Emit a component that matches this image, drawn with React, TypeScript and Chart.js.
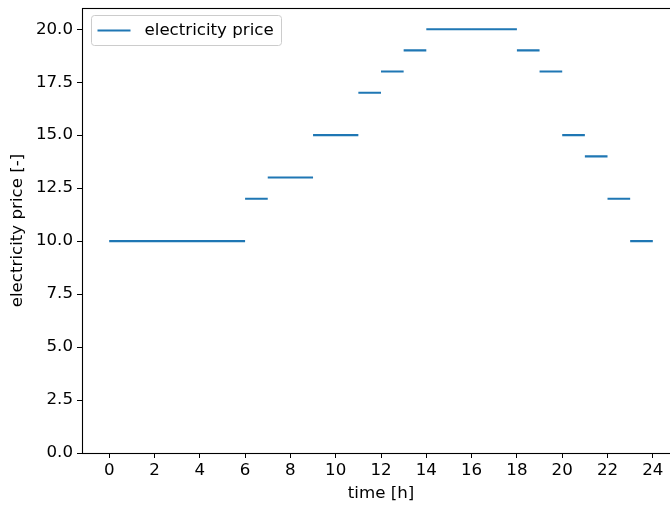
import React, { useEffect, useRef } from "react";
import { Chart, registerables } from "chart.js";

Chart.register(...registerables);

const hours: number[] = [0, 1, 2, 3, 4, 5, 6, 7, 8, 9, 10, 11, 12, 13, 14, 15, 16, 17, 18, 19, 20, 21, 22, 23];
const prices: number[] = [10, 10, 10, 10, 10, 10, 12, 13, 13, 15, 15, 17, 18, 19, 20, 20, 20, 20, 19, 18, 15, 14, 12, 10];
const xTicks: number[] = [0, 2, 4, 6, 8, 10, 12, 14, 16, 18, 20, 22, 24];
const yTicks: number[] = [0, 2.5, 5, 7.5, 10, 12.5, 15, 17.5, 20];
const seriesLabel = "electricity price";
const xTitle = "time [h]";
const yTitle = "electricity price [-]";

const BLUE = "#1f77b4";
const FONT = "'DejaVu Sans', sans-serif";
const FS = 16.67;

export default function App() {
  const ref = useRef<HTMLCanvasElement | null>(null);
  useEffect(() => {
    if (!ref.current) return;
    const pts: { x: number; y: number | null }[] = [];
    hours.forEach((h, i) => {
      pts.push({ x: h, y: prices[i] });
      pts.push({ x: h + 1, y: prices[i] });
      pts.push({ x: h + 1, y: null });
    });

    const framePlugin = {
      id: "frame",
      afterDraw(chart: any) {
        const { ctx, chartArea: a } = chart;
        ctx.save();
        ctx.strokeStyle = "#000";
        ctx.lineWidth = 1.1;
        ctx.strokeRect(Math.round(a.left) + 0.5, Math.round(a.top) + 0.5, Math.round(a.right - a.left), Math.round(a.bottom - a.top));
        // legend
        const bx = a.left + 9.5, by = a.top + 7.5, bw = 190, bh = 30;
        ctx.fillStyle = "rgba(255,255,255,0.8)";
        ctx.strokeStyle = "#cccccc";
        ctx.lineWidth = 1;
        const r = 3;
        ctx.beginPath();
        ctx.moveTo(bx + r, by);
        ctx.lineTo(bx + bw - r, by);
        ctx.quadraticCurveTo(bx + bw, by, bx + bw, by + r);
        ctx.lineTo(bx + bw, by + bh - r);
        ctx.quadraticCurveTo(bx + bw, by + bh, bx + bw - r, by + bh);
        ctx.lineTo(bx + r, by + bh);
        ctx.quadraticCurveTo(bx, by + bh, bx, by + bh - r);
        ctx.lineTo(bx, by + r);
        ctx.quadraticCurveTo(bx, by, bx + r, by);
        ctx.closePath();
        ctx.fill();
        ctx.stroke();
        ctx.strokeStyle = BLUE;
        ctx.lineWidth = 2.1;
        ctx.beginPath();
        ctx.moveTo(bx + 6, by + bh / 2);
        ctx.lineTo(bx + 39, by + bh / 2);
        ctx.stroke();
        ctx.fillStyle = "#000";
        ctx.font = `${FS}px ${FONT}`;
        ctx.textBaseline = "middle";
        ctx.textAlign = "left";
        ctx.fillText(seriesLabel, bx + 53, by + bh / 2 + 0.5);
        ctx.restore();
      },
    };

    const chart = new Chart(ref.current, {
      type: "line",
      data: {
        datasets: [
          {
            label: seriesLabel,
            data: pts as any,
            borderColor: BLUE,
            backgroundColor: BLUE,
            borderWidth: 2.1,
            pointRadius: 0,
            spanGaps: false,
            borderCapStyle: "butt",
          },
        ],
      },
      options: {
        animation: false,
        responsive: false,
        layout: { padding: { top: 8, right: 10, left: 0, bottom: 0 } },
        plugins: { legend: { display: false }, tooltip: { enabled: false } },
        scales: {
          x: {
            type: "linear",
            min: -1.2,
            max: 25.2,
            afterBuildTicks: (s: any) => {
              s.ticks = xTicks.map((v) => ({ value: v }));
            },
            afterFit: (s: any) => {
              s.height = 52;
              s.paddingLeft = 0;
              s.paddingRight = 0;
            },
            grid: { display: true, drawOnChartArea: false, drawTicks: true, tickLength: 5, color: "#000" },
            border: { display: true, color: "#000" },
            ticks: { color: "#000", font: { family: FONT, size: FS }, padding: 3, maxRotation: 0, autoSkip: false },
            title: { display: true, text: xTitle, color: "#000", font: { family: FONT, size: FS }, padding: { top: 2, bottom: 1 } },
          },
          y: {
            type: "linear",
            min: 0,
            max: 21,
            afterBuildTicks: (s: any) => {
              s.ticks = yTicks.map((v) => ({ value: v }));
            },
            afterFit: (s: any) => {
              s.width = 82;
              s.paddingTop = 0;
              s.paddingBottom = 0;
            },
            grid: { display: true, drawOnChartArea: false, drawTicks: true, tickLength: 5, color: "#000" },
            border: { display: true, color: "#000" },
            ticks: {
              color: "#000",
              font: { family: FONT, size: FS },
              padding: 4,
              autoSkip: false,
              callback: (v: any) => Number(v).toFixed(1),
            },
            title: { display: true, text: yTitle, color: "#000", font: { family: FONT, size: FS }, padding: { top: 8, bottom: 0 } },
          },
        },
      },
      plugins: [framePlugin],
    });
    return () => chart.destroy();
  }, []);
  return (
    <div style={{ position: "fixed", left: 0, top: 0, width: 670, height: 505, overflow: "hidden", background: "#fff" }}>
      <canvas ref={ref} width={690} height={505} style={{ display: "block" }} />
    </div>
  );
}
